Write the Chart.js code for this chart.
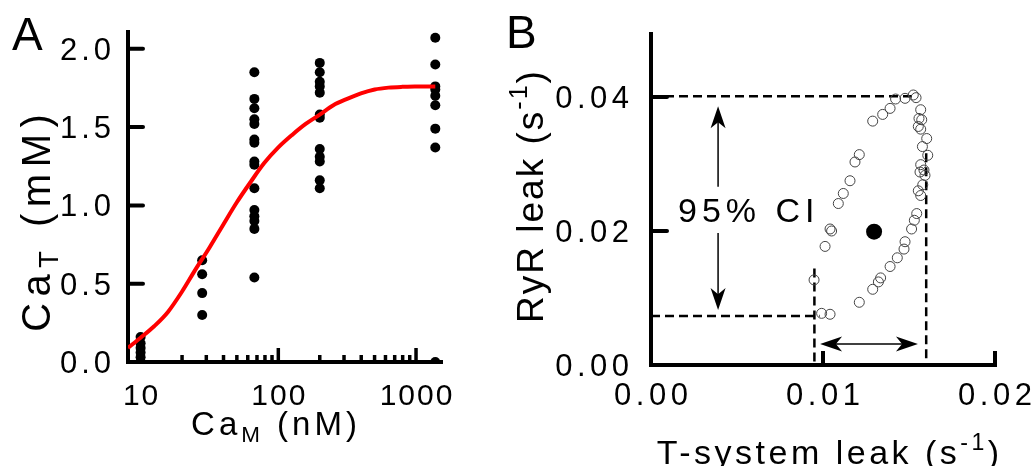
<!DOCTYPE html>
<html>
<head>
<meta charset="utf-8">
<script src="https://cdn.jsdelivr.net/npm/chart.js@4.4.1/dist/chart.umd.min.js"></script>
<style>
html, body { margin: 0; padding: 0; background: #fff; }
#wrapA { position: absolute; left: 0; top: 0; width: 500px; height: 466px; }
#wrapB { position: absolute; left: 500px; top: 0; width: 532px; height: 466px; }
</style>
</head>
<body>
<div id="wrapA"><canvas id="chartA"></canvas></div>
<div id="wrapB"><canvas id="chartB"></canvas></div>
<script>
// ---- panel A : CaT vs CaM ----
const caM = [10, 28, 67, 200, 1380];
const caT_10 = [0.16, 0.12, 0.09, 0.06, 0.03, 0.0];
const caT_28 = [0.65, 0.56, 0.44, 0.30];
const caT_67 = [1.85, 1.68, 1.62, 1.55, 1.52, 1.42, 1.40, 1.28, 1.26, 1.11, 0.97, 0.93, 0.90, 0.85, 0.54];
const caT_200 = [1.91, 1.85, 1.79, 1.76, 1.72, 1.58, 1.56, 1.36, 1.31, 1.28, 1.16, 1.11];
const caT_1380 = [2.07, 1.90, 1.76, 1.74, 1.70, 1.64, 1.49, 1.37, 0.0];
// red fitted curve
const fitX = [8.1, 10, 12.6, 15.8, 20, 25, 31.6, 40, 50, 63, 79, 100, 126, 158, 200, 251, 316, 398, 501, 631, 794, 1000, 1380];
const fitY = [0.09, 0.155, 0.23, 0.32, 0.45, 0.59, 0.73, 0.88, 1.02, 1.15, 1.27, 1.37, 1.45, 1.52, 1.58, 1.64, 1.68, 1.715, 1.74, 1.752, 1.757, 1.759, 1.76];
const yTicksA = [0, 0.5, 1.0, 1.5, 2.0];
const xLabelsA = [10, 100, 1000];
const xMinorA = [20, 30, 40, 50, 60, 70, 80, 90, 200, 300, 400, 500, 600, 700, 800, 900];

// ---- panel B : RyR leak vs T-system leak ----
const tLeak = [0.01289, 0.01347, 0.01390, 0.01422, 0.01477, 0.01525, 0.01541, 0.01568, 0.01558, 0.01574,
  0.01554, 0.01568, 0.01603, 0.01578, 0.01609, 0.01568, 0.01587, 0.01564, 0.01593, 0.01580,
  0.01554, 0.01568, 0.01545, 0.01531, 0.01515, 0.01477, 0.01471, 0.01432, 0.01390, 0.01335,
  0.01322, 0.01289, 0.01211, 0.01041, 0.00992, 0.00948, 0.01012, 0.01041, 0.01050, 0.01089,
  0.01118, 0.01157, 0.01186, 0.01211];
const ryrLeak = [0.0364, 0.0374, 0.0383, 0.0397, 0.0398, 0.0403, 0.0399, 0.0381, 0.0368, 0.0366,
  0.0356, 0.0352, 0.0338, 0.0326, 0.0313, 0.0299, 0.0291, 0.0288, 0.0283, 0.0269,
  0.0260, 0.0253, 0.0226, 0.0216, 0.0203, 0.0184, 0.0173, 0.0160, 0.0147, 0.0130,
  0.0124, 0.0113, 0.00936, 0.00757, 0.00771, 0.0127, 0.0177, 0.0203, 0.0200, 0.0241,
  0.0256, 0.0275, 0.0303, 0.0314];
const bestT = [0.01297];
const bestR = [0.0199];
const yTicksB = [0, 0.02, 0.04];
const xTicksB = [0, 0.01, 0.02];
// dashed confidence guides (data units)
const ciRyR = [0.0073, 0.0401];
const ciT = [0.0095, 0.0160];

const FONT = '"Liberation Sans", Arial, sans-serif';

function drawRich(ctx, parts, x, y, o) {
  const size = o.size, sp = o.spacing || 0;
  ctx.save();
  ctx.translate(x, y);
  if (o.rotate) ctx.rotate(o.rotate);
  ctx.letterSpacing = sp + 'px';
  ctx.textBaseline = 'alphabetic';
  ctx.textAlign = 'left';
  ctx.fillStyle = '#000';
  const segs = parts.map(([t, k]) => {
    const fs = k ? size * 0.68 : size;
    ctx.font = fs + 'px ' + FONT;
    return { t, fs, w: ctx.measureText(t).width, dy: k === 'sub' ? size * 0.2 : k === 'sup' ? -size * 0.42 : 0 };
  });
  const total = segs.reduce((a, s) => a + s.w, 0) - sp;
  let cx = o.align === 'center' ? -total / 2 : o.align === 'right' ? -total : 0;
  segs.forEach(s => {
    ctx.font = s.fs + 'px ' + FONT;
    ctx.fillText(s.t, cx, s.dy);
    cx += s.w;
  });
  ctx.restore();
}

function line(ctx, x1, y1, x2, y2, w, cap) {
  ctx.save();
  ctx.strokeStyle = '#000';
  ctx.lineWidth = w;
  ctx.lineCap = cap || 'butt';
  ctx.beginPath();
  ctx.moveTo(x1, y1);
  ctx.lineTo(x2, y2);
  ctx.stroke();
  ctx.restore();
}

function arrowHead(ctx, x, y, ang) {
  const L = 22, W = 7.5;
  ctx.save();
  ctx.translate(x, y);
  ctx.rotate(ang);
  ctx.fillStyle = '#000';
  ctx.beginPath();
  ctx.moveTo(0, 0);
  ctx.lineTo(-L, -W);
  ctx.lineTo(-L * 0.72, 0);
  ctx.lineTo(-L, W);
  ctx.closePath();
  ctx.fill();
  ctx.restore();
}

const pts = (xs, ys) => xs.map((x, i) => ({ x, y: ys[i] }));
const colA = (x, ys) => ys.map(y => ({ x, y }));

const baseOpts = {
  responsive: true,
  maintainAspectRatio: false,
  animation: false,
  events: [],
  plugins: { legend: { display: false }, tooltip: { enabled: false } }
};
const hidden = { ticks: { display: false }, grid: { display: false, drawTicks: false }, border: { display: false } };

// ---------- chart A ----------
const axesA = {
  id: 'axesA',
  beforeDatasetsDraw(chart) {
    const { ctx, chartArea: a, scales: { x, y } } = chart;
    line(ctx, a.left, a.top, a.left, a.bottom + 2, 4);
    line(ctx, a.left - 2, a.bottom, a.right, a.bottom, 4);
    yTicksA.slice(1).forEach(v => line(ctx, a.left, y.getPixelForValue(v), a.left + 15, y.getPixelForValue(v), 4, 'round'));
    xMinorA.forEach(v => line(ctx, x.getPixelForValue(v), a.bottom, x.getPixelForValue(v), a.bottom - 7, 3.5));
    xLabelsA.forEach(v => line(ctx, x.getPixelForValue(v), a.bottom, x.getPixelForValue(v), a.bottom - 14, 3.5));
  },
  afterDraw(chart) {
    const { ctx, scales: { x, y } } = chart;
    yTicksA.forEach(v => drawRich(ctx, [[v.toFixed(1)]], 111, y.getPixelForValue(v) + 11, { size: 31, spacing: 4, align: 'right' }));
    xLabelsA.forEach(v => drawRich(ctx, [[String(v)]], x.getPixelForValue(v), 405, { size: 30, spacing: 2, align: 'center' }));
    drawRich(ctx, [['Ca'], ['M', 'sub'], [' (nM)']], 274, 435, { size: 33, spacing: 4, align: 'center' });
    drawRich(ctx, [['Ca'], ['T', 'sub'], [' (mM)']], 50, 223, { size: 40, spacing: 6.5, align: 'center', rotate: -Math.PI / 2 });
    drawRich(ctx, [['A']], 12, 50, { size: 46 });
  }
};

new Chart(document.getElementById('chartA'), {
  type: 'scatter',
  data: {
    datasets: [
      { data: pts(fitX, fitY), showLine: true, borderColor: '#ff0000', borderWidth: 4, pointRadius: 0, tension: 0.4, cubicInterpolationMode: 'monotone' },
      {
        data: [].concat(colA(caM[0], caT_10), colA(caM[1], caT_28), colA(caM[2], caT_67), colA(caM[3], caT_200), colA(caM[4], caT_1380)),
        pointRadius: 5, pointBackgroundColor: '#000', pointBorderWidth: 0
      }
    ]
  },
  options: Object.assign({}, baseOpts, {
    layout: { padding: { top: 30, right: 57, left: 0, bottom: 0 } },
    scales: {
      x: Object.assign({ type: 'logarithmic', min: 8.1, max: 1570, afterFit: s => { s.height = 104; s.paddingLeft = 0; s.paddingRight = 0; } }, hidden),
      y: Object.assign({ type: 'linear', min: 0, max: 2.12, afterFit: s => { s.width = 128; s.paddingTop = 0; s.paddingBottom = 0; } }, hidden)
    }
  }),
  plugins: [axesA]
});

// ---------- chart B ----------
const axesB = {
  id: 'axesB',
  beforeDatasetsDraw(chart) {
    const { ctx, chartArea: a, scales: { x, y } } = chart;
    line(ctx, a.left, a.top, a.left, a.bottom + 2, 4);
    line(ctx, a.left - 2, a.bottom, a.right + 2, a.bottom, 4);
    yTicksB.slice(1).forEach(v => line(ctx, a.left, y.getPixelForValue(v), a.left + 16, y.getPixelForValue(v), 4, 'round'));
    xTicksB.slice(1).forEach(v => line(ctx, x.getPixelForValue(v), a.bottom, x.getPixelForValue(v), a.bottom - 14, 4));
  },
  afterDraw(chart) {
    const { ctx, scales: { x, y } } = chart;
    // vertical 95% CI arrow
    const ax = x.getPixelForValue(0.0039);
    const top = y.getPixelForValue(0.0386), bot = y.getPixelForValue(0.0082);
    line(ctx, ax, top + 10, ax, y.getPixelForValue(0.0266), 1.5);
    line(ctx, ax, y.getPixelForValue(0.0197), ax, bot - 10, 1.5);
    arrowHead(ctx, ax, top, -Math.PI / 2);
    arrowHead(ctx, ax, bot, Math.PI / 2);
    // horizontal arrow
    const hy = y.getPixelForValue(0.00313);
    const hl = x.getPixelForValue(0.00983), hr = x.getPixelForValue(0.01552);
    line(ctx, hl + 10, hy, hr - 10, hy, 1.5);
    arrowHead(ctx, hl, hy, Math.PI);
    arrowHead(ctx, hr, hy, 0);
    drawRich(ctx, [['95% CI']], x.getPixelForValue(0.00157), y.getPixelForValue(0.0213), { size: 34, spacing: 5 });

    yTicksB.forEach(v => drawRich(ctx, [[v.toFixed(2)]], 129, y.getPixelForValue(v) + 11, { size: 31, spacing: 4.5, align: 'right' }));
    xTicksB.forEach(v => drawRich(ctx, [[v.toFixed(2)]], x.getPixelForValue(v), 405, { size: 31, spacing: 4.5, align: 'center' }));
    drawRich(ctx, [['T-system leak (s'], ['-1', 'sup'], [')']], 328, 464, { size: 34, spacing: 3.5, align: 'center' });
    drawRich(ctx, [['RyR leak (s'], ['-1', 'sup'], [')']], 43, 197, { size: 37, spacing: 2, align: 'center', rotate: -Math.PI / 2 });
    drawRich(ctx, [['B']], 6, 48, { size: 46 });
  }
};

const dash = { showLine: true, borderColor: '#000', borderWidth: 2.5, borderDash: [9, 5], pointRadius: 0 };

new Chart(document.getElementById('chartB'), {
  type: 'scatter',
  data: {
    datasets: [
      { data: pts(bestT, bestR), pointRadius: 8, pointBackgroundColor: '#000', pointBorderWidth: 0 },
      { data: pts(tLeak, ryrLeak), pointRadius: 5, pointBackgroundColor: 'rgba(255,255,255,0)', pointBorderColor: '#444', pointBorderWidth: 1 },
      Object.assign({ data: [{ x: 0, y: ciRyR[1] }, { x: 0.0153, y: ciRyR[1] }] }, dash),
      Object.assign({ data: [{ x: 0, y: ciRyR[0] }, { x: 0.0098, y: ciRyR[0] }] }, dash),
      Object.assign({ data: [{ x: ciT[0], y: 0.0144 }, { x: ciT[0], y: 0 }] }, dash),
      Object.assign({ data: [{ x: ciT[1], y: 0.0316 }, { x: ciT[1], y: 0 }] }, dash)
    ]
  },
  options: Object.assign({}, baseOpts, {
    layout: { padding: { top: 32, right: 37, left: 0, bottom: 0 } },
    scales: {
      x: Object.assign({ type: 'linear', min: 0, max: 0.02, afterFit: s => { s.height = 101; s.paddingLeft = 0; s.paddingRight = 0; } }, hidden),
      y: Object.assign({ type: 'linear', min: 0, max: 0.0497, afterFit: s => { s.width = 151; s.paddingTop = 0; s.paddingBottom = 0; } }, hidden)
    }
  }),
  plugins: [axesB]
});
</script>
</body>
</html>
